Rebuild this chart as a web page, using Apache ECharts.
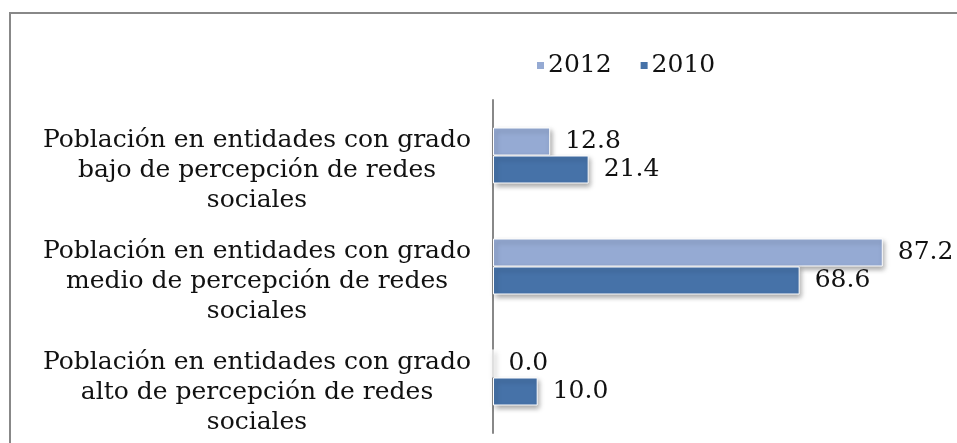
<!DOCTYPE html>
<html>
<head>
<meta charset="utf-8">
<script src="https://cdn.jsdelivr.net/npm/echarts@6/dist/echarts.min.js"></script>
<style>
    html, body { margin: 0; padding: 0; background: #fff; }
    #chart { width: 957px; height: 443px; }
</style>
</head>
<body>
<div id="chart"></div>
<script>
let categories = [
    'Población en entidades con grado\nbajo de percepción de redes\nsociales',
    'Población en entidades con grado\nmedio de percepción de redes\nsociales',
    'Población en entidades con grado\nalto de percepción de redes\nsociales'
];
let seriesNames = ['2012', '2010'];
let values2012 = [12.8, 87.2, 0.0];
let values2010 = [21.4, 68.6, 10.0];

let font = '"DejaVu Serif", "Liberation Serif", serif';
let colors = ['#95aad3', '#4672a8'];

function makeSeries(name, data, color){
    return {
        name: name,
        type: 'bar',
        data: data,
        barWidth: 28,
        barGap: '0%',
        itemStyle: {
            color: color,
            borderColor: '#fff',
            borderWidth: 1,
            shadowColor: 'rgba(0,0,0,0.35)',
            shadowBlur: 5,
            shadowOffsetX: 2,
            shadowOffsetY: 3
        },
        label: {
            show: true,
            position: 'right',
            distance: 15,
            fontFamily: font,
            fontSize: 25,
            color: '#111',
            formatter: (p) => p.value.toFixed(1)
        }
    };
}

let chart = echarts.init(document.getElementById('chart'));
chart.setOption({
    animation: false,
    graphic: [
        {
            type: 'polyline',
            shape: { points: [[10, 443], [10, 13], [957, 13]] },
            style: { stroke: '#888', lineWidth: 2, fill: null }
        }
    ],
    legend: {
        data: seriesNames,
        left: 530,
        top: 48,
        itemWidth: 9,
        itemHeight: 9,
        itemGap: 27,
        icon: 'rect',
        textStyle: {
            fontFamily: font,
            fontSize: 25,
            color: '#111',
            padding: [0, 0, 0, -2]
        }
    },
    grid: {
        left: 493,
        top: 100,
        width: 447,
        height: 333,
        containLabel: false
    },
    xAxis: {
        type: 'value',
        min: 0,
        max: 100,
        show: false
    },
    yAxis: {
        type: 'category',
        data: categories,
        inverse: true,
        axisLine: { show: true, lineStyle: { color: '#888', width: 2 } },
        axisTick: { show: false },
        axisLabel: {
            interval: 0,
            margin: 236,
            fontFamily: font,
            fontSize: 25,
            color: '#111',
            lineHeight: 30,
            align: 'center',
            formatter: (v) => '\n' + v      // empty first line pushes text down like the original
        }
    },
    series: [
        makeSeries(seriesNames[0], values2012, colors[0]),
        makeSeries(seriesNames[1], values2010, colors[1])
    ]
});
</script>
</body>
</html>
